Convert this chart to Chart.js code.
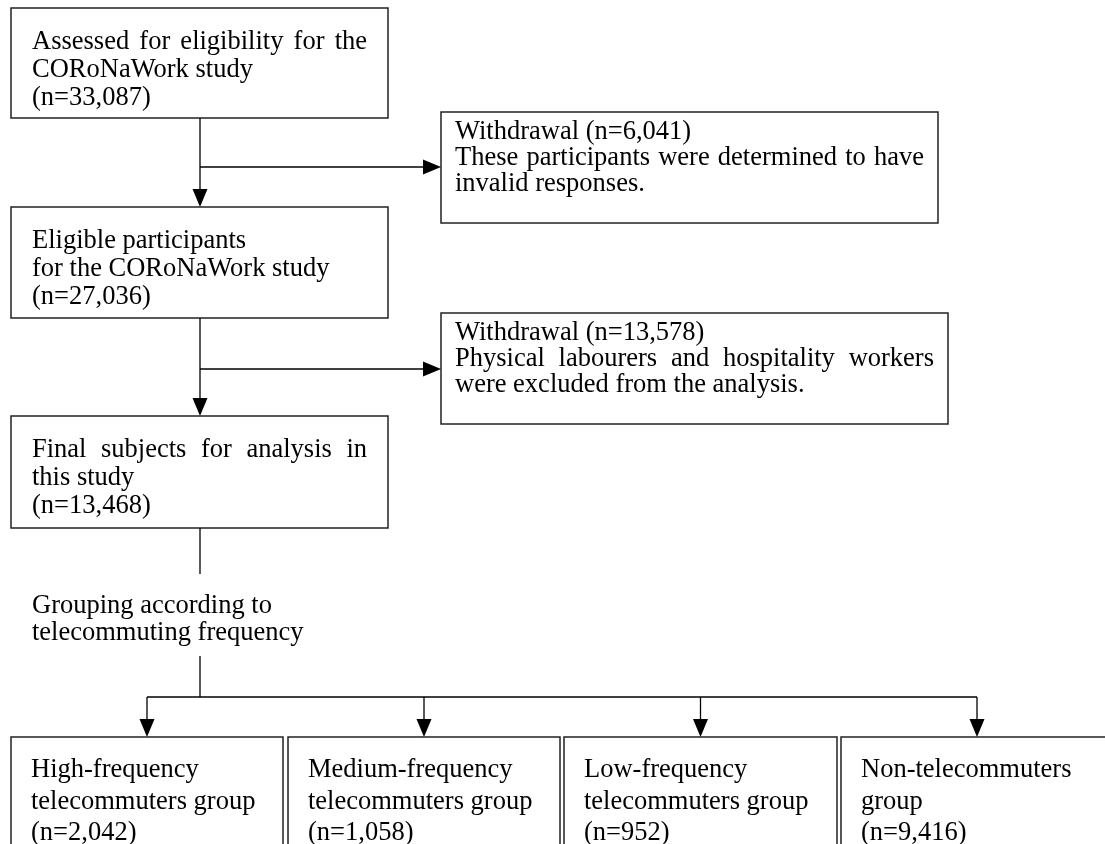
<!DOCTYPE html>
<html>
<head>
<meta charset="utf-8">
<script src="https://cdn.jsdelivr.net/npm/chart.js@4/dist/chart.umd.min.js"></script>
<style>
  html, body { margin: 0; padding: 0; background: #fff; }
  #wrap { width: 1105px; height: 844px; }
</style>
</head>
<body>
<div id="wrap"><canvas id="flow" width="1105" height="844"></canvas></div>
<script>
// text + counts of the flow diagram
const stageLines = [
    ['Assessed for eligibility for the', 'CORoNaWork study'],
    ['Eligible participants', 'for the CORoNaWork study'],
    ['Final subjects for analysis in', 'this study']
];
const stageCounts = [33087, 27036, 13468];
const withdrawalCounts = [6041, 13578];
const withdrawalReasons = [
    ['These participants were determined to have', 'invalid responses.'],
    ['Physical labourers and hospitality workers', 'were excluded from the analysis.']
];
const groupingNote = ['Grouping according to', 'telecommuting frequency'];
const groupLines = [
    ['High-frequency', 'telecommuters group'],
    ['Medium-frequency', 'telecommuters group'],
    ['Low-frequency', 'telecommuters group'],
    ['Non-telecommuters', 'group']
];
const groupCounts = [2042, 1058, 952, 9416];

// layout (in axis units, 1 unit = 1 px of the original figure)
const spineX = 200;
const stageBoxes = [
    { x0: 11, x1: 388, y0: 8, y1: 118, justify: [true, false] },
    { x0: 11, x1: 388, y0: 207, y1: 318, justify: [false, false] },
    { x0: 11, x1: 388, y0: 416, y1: 528, justify: [true, false] }
];
const sideBoxes = [
    { x0: 441, x1: 938, y0: 112, y1: 223, arrowY: 167 },
    { x0: 441, x1: 948, y0: 313, y1: 424, arrowY: 369 }
];
const groupBoxes = [
    { x0: 11, x1: 283 }, { x0: 288, x1: 560 }, { x0: 564, x1: 837 }, { x0: 841, x1: 1113 }
];
const groupTop = 737, groupBottom = 880, splitY = 697;

const FONT = '26.5px "Liberation Serif", "Times New Roman", serif';

function fmt(n) { return '(n=' + n.toLocaleString('en-US') + ')'; }

const flowPlugin = {
    id: 'flow',
    afterDraw(chart) {
        const ctx = chart.ctx;
        const X = v => chart.scales.x.getPixelForValue(v);
        const Y = v => chart.scales.y.getPixelForValue(v);

        ctx.save();
        ctx.font = FONT;
        ctx.fillStyle = '#000';
        ctx.textBaseline = 'alphabetic';

        function line(x0, y0, x1, y1) {
            ctx.strokeStyle = '#000';
            ctx.lineWidth = 1.3;
            ctx.beginPath();
            ctx.moveTo(X(x0), Y(y0));
            ctx.lineTo(X(x1), Y(y1));
            ctx.stroke();
        }
        function arrowHead(x, y, dir) {
            const len = 18, half = 7.5;
            ctx.beginPath();
            if (dir === 'down') {
                ctx.moveTo(X(x), Y(y));
                ctx.lineTo(X(x - half), Y(y - len));
                ctx.lineTo(X(x + half), Y(y - len));
            } else {
                ctx.moveTo(X(x), Y(y));
                ctx.lineTo(X(x - len), Y(y - half));
                ctx.lineTo(X(x - len), Y(y + half));
            }
            ctx.closePath();
            ctx.fill();
        }
        function rect(b, y0, y1) {
            ctx.strokeStyle = '#222';
            ctx.lineWidth = 1.5;
            ctx.strokeRect(X(b.x0), Y(y0), X(b.x1) - X(b.x0), Y(y1) - Y(y0));
        }
        // width > 0 -> spread the words over that width (justified line)
        function text(str, x, y, width) {
            if (!width) { ctx.fillText(str, X(x), Y(y)); return; }
            const words = str.split(' ');
            const sum = words.reduce((s, w) => s + ctx.measureText(w).width, 0);
            const gap = (X(x + width) - X(x) - sum) / (words.length - 1);
            let cx = X(x);
            words.forEach(w => { ctx.fillText(w, cx, Y(y)); cx += ctx.measureText(w).width + gap; });
        }

        // main column
        stageBoxes.forEach((b, i) => {
            rect(b, b.y0, b.y1);
            const lines = stageLines[i].concat([fmt(stageCounts[i])]);
            lines.forEach((t, k) => {
                const just = b.justify[k];
                text(t, b.x0 + 21, b.y0 + 41 + 28 * k, just ? (b.x1 - b.x0 - 42) : 0);
            });
            if (i < stageBoxes.length - 1) {
                const next = stageBoxes[i + 1];
                line(spineX, b.y1, spineX, next.y0 - 16);
                arrowHead(spineX, next.y0, 'down');
            }
        });

        // withdrawals
        sideBoxes.forEach((b, i) => {
            rect(b, b.y0, b.y1);
            line(spineX, b.arrowY, b.x0 - 16, b.arrowY);
            arrowHead(b.x0, b.arrowY, 'right');
            const lines = ['Withdrawal ' + fmt(withdrawalCounts[i])].concat(withdrawalReasons[i]);
            lines.forEach((t, k) => {
                const just = k === 1;
                text(t, b.x0 + 14, b.y0 + 27 + 26 * k, just ? (b.x1 - b.x0 - 28) : 0);
            });
        });

        // grouping
        const last = stageBoxes[stageBoxes.length - 1];
        line(spineX, last.y1, spineX, 574);
        groupingNote.forEach((t, k) => text(t, 32, 613 + 27 * k));
        line(spineX, 656, spineX, splitY);
        const centers = groupBoxes.map(b => (b.x0 + b.x1) / 2);
        line(centers[0], splitY, centers[centers.length - 1], splitY);
        groupBoxes.forEach((b, i) => {
            line(centers[i], splitY, centers[i], groupTop - 16);
            arrowHead(centers[i], groupTop, 'down');
            rect(b, groupTop, groupBottom);
            const lines = groupLines[i].concat([fmt(groupCounts[i])]);
            lines.forEach((t, k) => text(t, b.x0 + 20, groupTop + 40 + 31.5 * k));
        });
        ctx.restore();
    }
};

new Chart(document.getElementById('flow'), {
    type: 'scatter',
    data: { datasets: [{ data: [], pointRadius: 0 }] },
    options: {
        responsive: false,
        devicePixelRatio: 1,
        animation: false,
        layout: { padding: 0 },
        plugins: { legend: { display: false }, tooltip: { enabled: false } },
        scales: {
            x: { type: 'linear', min: 0, max: 1105, display: false },
            y: { type: 'linear', min: 0, max: 844, reverse: true, display: false }
        }
    },
    plugins: [flowPlugin]
});
</script>
</body>
</html>
